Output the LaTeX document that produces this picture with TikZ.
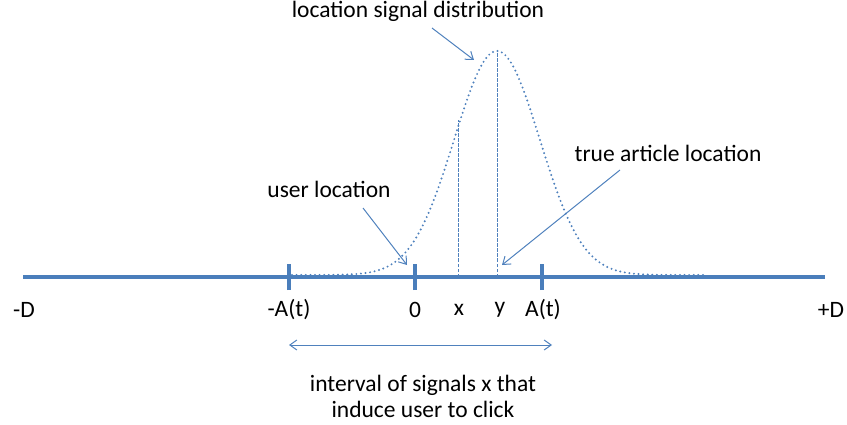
\documentclass[tikz,border=0pt]{standalone}
\usepackage{fontspec}
\setmainfont{Carlito}
\usetikzlibrary{arrows.meta}
\definecolor{axisblue}{RGB}{74,126,187}
\definecolor{lineblue}{RGB}{79,129,189}
\tikzset{
  lbl/.style={font=\fontsize{23.5}{26}\selectfont, text=black, inner sep=0pt},
  pointer/.style={lineblue, line width=1pt, -{Straight Barb[length=7pt,width=10pt]}},
  guide/.style={lineblue, line width=1pt, dash pattern=on 3.5pt off 1.5pt},
  tick/.style={axisblue, line width=3.5pt}
}
\begin{document}
\begin{tikzpicture}[x=1pt,y=-1pt]
  \useasboundingbox (0,0) rectangle (847,425);
  % main axis
  \coordinate (L) at (23,277);
  \coordinate (R) at (825,277);
  \draw[axisblue, line width=3.5pt] (L) -- (R);
  % ticks
  \coordinate (tA) at (289,277);
  \coordinate (t0) at (415,277);
  \coordinate (tB) at (542,277);
  \foreach \p in {tA,t0,tB} \draw[tick] ([yshift=-13pt]\p) -- ([yshift=13pt]\p);
  % signal density (mean 497, scale 60.43)
  \draw[lineblue, line width=2.2pt, dash pattern=on 0pt off 4.6pt, line cap=round]
    plot[domain=292:705, samples=160, smooth] (\x, {275-224*exp(-(((\x-497)/60.43)^2))});
  % guides at x and y
  \coordinate (gx) at (458.5,277);
  \coordinate (gy) at (497.5,277);
  \draw[guide] (gx) -- (458.5,120);
  \draw[guide] (gy) -- (497.5,53);
  % tick labels
  \node[lbl] (lD) at (24,310) {-D};
  \node[lbl] (lA) at (289,310) {-A(t)};
  \node[lbl] (l0) at (415,310) {0};
  \node[lbl] (lx) at (459,310) {x};
  \node[lbl] (ly) at (500,310) {y};
  \node[lbl] (lB) at (543,310) {A(t)};
  \node[lbl] (lDp) at (831,310) {+D};
  % annotations
  \node[lbl] (dist) at (418,11) {location signal distribution};
  \node[lbl] (user) at (329,189) {user location};
  \node[lbl] (true) at (668,153) {true article location};
  \coordinate (distTip) at (474,60);
  \coordinate (userTip) at (407,265);
  \coordinate (trueTip) at (502,265);
  \draw[pointer] (432,28) -- (distTip);
  \draw[pointer] (363,208) -- (userTip);
  \draw[pointer] (620,170) -- (trueTip);
  % interval of clicking signals
  \coordinate (iL) at (289,345);
  \coordinate (iR) at (552,345);
  \draw[lineblue, line width=1pt, {Straight Barb[length=7pt,width=10pt]}-{Straight Barb[length=7pt,width=10pt]}] (iL) -- (iR);
  \node[lbl, align=center] (interval) at (423,396) {interval of signals x that\\induce user to click};
\end{tikzpicture}
\end{document}
